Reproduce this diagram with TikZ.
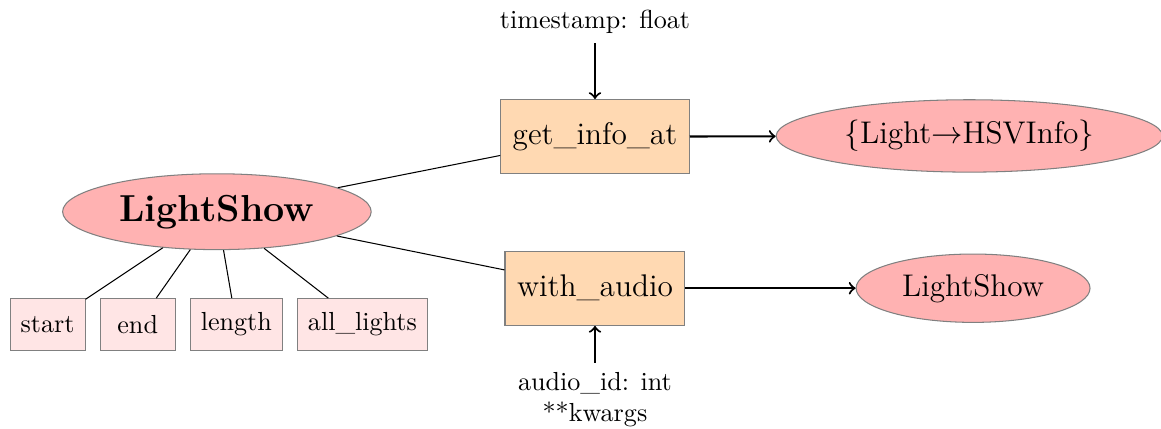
\documentclass[tikz,border=0pt]{standalone}
\usepackage{amsmath, amssymb}
\usepackage{tikz}
\usetikzlibrary{shapes.geometric, positioning}

\begin{document}
\begin{tikzpicture}[
		clase/.style={ellipse, draw=gray, fill=red!30, inner xsep=4.5pt, inner ysep=3.8pt},
		metodo/.style={rectangle, draw=gray, fill=orange!30, minimum height=1cm, inner xsep=4.6pt, font=\large},
		atributo/.style={rectangle, draw=gray, fill=red!10, minimum width=1.01cm, minimum height=0.7cm, inner xsep=4pt},
		flecha/.style={thick, ->}
	]

		\useasboundingbox (0,0) rectangle (15.63,-5.77); % Margenes del dibujo

		% Clase principal
		\node[clase, font=\Large\bfseries] (lightshow) at (2.92,-2.85) {LightShow};

		% Atributos
		\node[atributo] (inicio) at (0.64,-4.37) {start};
		\node[atributo, right=0.19cm of inicio] (fin) {end};
		\node[atributo, right=0.19cm of fin] (longitud) {length};
		\node[atributo, right=0.19cm of longitud] (luces) {all\_lights};

		% Metodos
		\node[metodo] (getinfo) at (8.01,-1.84) {get\_info\_at};
		\node[metodo] (withaudio) at (8.01,-3.88) {with\_audio};

		% Parametros
		\node (timestamp) at (8.01,-0.30) {timestamp: float};
		\node[align=center] (audioid) at (8.01,-5.38) {audio\_id: int\\**kwargs};

		% Valores de retorno
		\node[clase, font=\large] (mapa) at (13.05,-1.83) {$\{$Light$\rightarrow$HSVInfo$\}$};
		\node[clase, font=\large] (nuevo) at (13.10,-3.88) {LightShow};

		% Conexiones de la clase
		\draw (lightshow) -- (inicio);
		\draw (lightshow) -- (fin);
		\draw (lightshow) -- (longitud);
		\draw (lightshow) -- (luces);
		\draw (lightshow) -- (getinfo);
		\draw (lightshow) -- (withaudio);

		% Entradas y salidas
		\draw[flecha] (timestamp) -- (getinfo);
		\draw[flecha] (audioid) -- (withaudio);
		\draw[flecha] (getinfo) -- (mapa);
		\draw[flecha] (withaudio) -- (nuevo);

	\end{tikzpicture}
\end{document}
